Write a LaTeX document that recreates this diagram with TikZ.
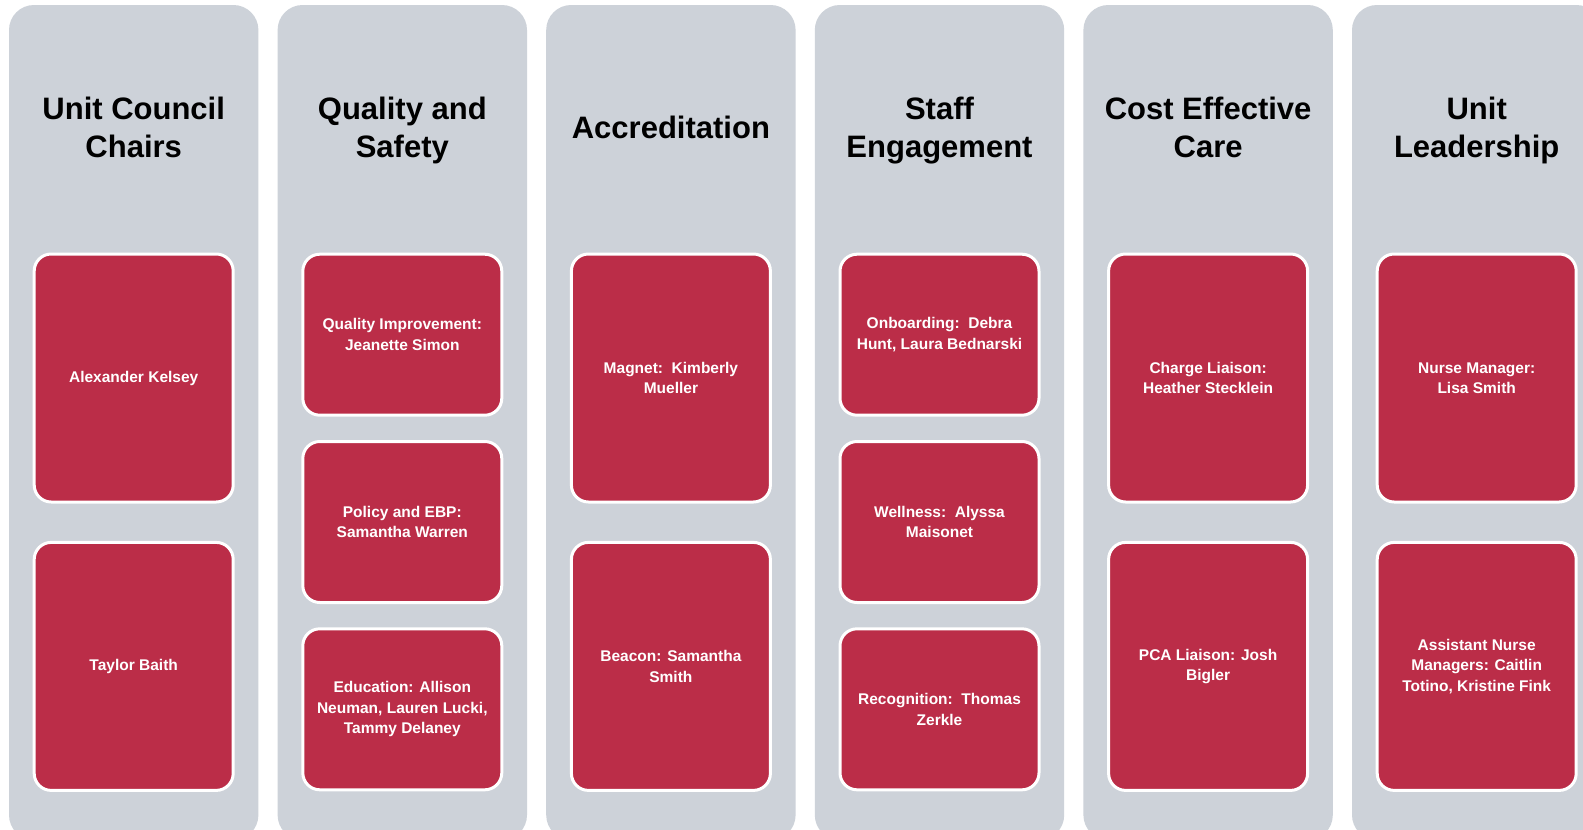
\documentclass[tikz,border=0pt]{standalone}
\usepackage{fontspec}
\setmainfont{Liberation Sans}
\usepackage{tikz}
\definecolor{colgray}{RGB}{205,210,217}
\definecolor{rolered}{RGB}{187,45,72}
\tikzset{
  colbox/.style={fill=colgray, rounded corners=25pt},
  titletext/.style={align=center, font=\fontsize{31}{38}\selectfont\bfseries, text=black},
  rolebox/.style={draw=white, line width=3pt, fill=rolered, rounded corners=17pt,
    minimum width=199pt, align=center, text=white, inner sep=4pt,
    font=\fontsize{15.5}{20.5}\selectfont\bfseries},
  roletall/.style={rolebox, minimum height=248pt},
  roleshort/.style={rolebox, minimum height=161pt}
}

\begin{document}
\begin{tikzpicture}[x=1pt,y=-1pt]
			\useasboundingbox (0,0) rectangle (1583,830);
			\fill[white] (0,0) rectangle (1583,830);
			\clip (0,0) rectangle (1583,830);
			% columns
			\fill[colbox] (9,5) rectangle (258.4,840);
			\fill[colbox] (277.6,5) rectangle (527,840);
			\fill[colbox] (546.2,5) rectangle (795.6,840);
			\fill[colbox] (814.8,5) rectangle (1064.2,840);
			\fill[colbox] (1083.4,5) rectangle (1332.8,840);
			\fill[colbox] (1352,5) rectangle (1601.4,840);
			% titles
			\node[titletext] (chairs) at (133.7,131) {\strut Unit Council\\\strut Chairs};
			\node[titletext] (quality) at (402.3,131) {\strut Quality and\\\strut Safety};
			\node[titletext] (accred) at (670.9,131) {\strut Accreditation};
			\node[titletext] (staff) at (939.5,131) {\strut Staff\\\strut Engagement};
			\node[titletext] (cost) at (1208.1,131) {\strut Cost Effective\\\strut Care};
			\node[titletext] (leader) at (1476.7,131) {\strut Unit\\\strut Leadership};
			% unit council chairs
			\node[roletall] (kelsey) at (133.7,378) {Alexander Kelsey};
			\node[roletall] (baith) at (133.7,666.4) {Taylor Baith};
			% quality and safety
			\node[roleshort] (qi) at (402.3,334.7) {Quality Improvement:\\Jeanette Simon};
			\node[roleshort] (policy) at (402.3,522) {Policy and EBP:\\Samantha Warren};
			\node[roleshort] (educ) at (402.3,709.3) {Education: Allison\\Neuman, Lauren Lucki,\\Tammy Delaney};
			% accreditation
			\node[roletall] (magnet) at (670.9,378) {Magnet:\ \ Kimberly\\Mueller};
			\node[roletall] (beacon) at (670.9,666.4) {Beacon: Samantha\\Smith};
			% staff engagement
			\node[roleshort] (onboard) at (939.5,334.7) {Onboarding:\ \ Debra\\Hunt, Laura Bednarski};
			\node[roleshort] (wellness) at (939.5,522) {Wellness:\ \ Alyssa\\Maisonet};
			\node[roleshort] (recog) at (939.5,709.3) {Recognition:\ \ Thomas\\Zerkle};
			% cost effective care
			\node[roletall] (charge) at (1208.1,378) {Charge Liaison:\\Heather Stecklein};
			\node[roletall] (pca) at (1208.1,666.4) {PCA Liaison: Josh\\Bigler};
			% unit leadership
			\node[roletall] (nm) at (1476.7,378) {Nurse Manager:\\Lisa Smith};
			\node[roletall] (anm) at (1476.7,666.4) {Assistant Nurse\\Managers: Caitlin\\Totino, Kristine Fink};
		\end{tikzpicture}
\end{document}
